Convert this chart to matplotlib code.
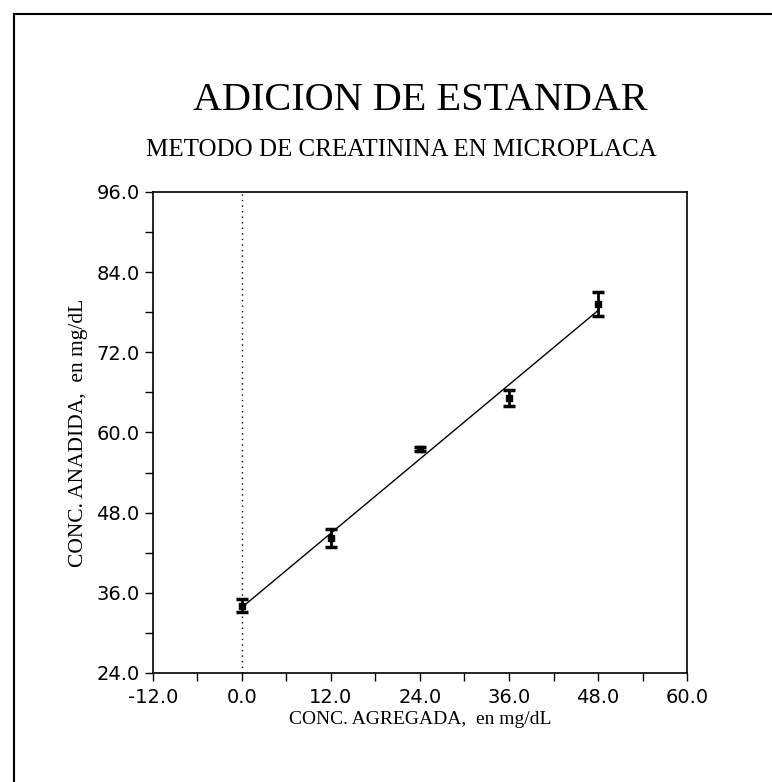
import numpy as np
import matplotlib.pyplot as plt
from matplotlib.lines import Line2D

# concentration added (mg/dL) and measured concentration with its spread
conc_agregada = [0.0, 12.0, 24.0, 36.0, 48.0]
conc_anadida = [34.1, 44.2, 57.6, 65.1, 79.2]
desviacion = [1.0, 1.3, 0.3, 1.2, 1.8]

x_ticks = [-12.0, 0.0, 12.0, 24.0, 36.0, 48.0, 60.0]
y_ticks = [24.0, 36.0, 48.0, 60.0, 72.0, 84.0, 96.0]

fig = plt.figure(figsize=(7.72, 7.82), dpi=100)
ax = fig.add_axes([0.198, 0.1394, 0.692, 0.6151])

# scan frame on the top and left edges
fig.add_artist(Line2D([0.018, 1.0], [0.982, 0.982], color='black', lw=1.5))
fig.add_artist(Line2D([0.018, 0.018], [0.0, 0.982], color='black', lw=1.5))

ax.axvline(0.0, color='black', lw=1, ls=(0, (1, 3)))

pendiente, intercepto = np.polyfit(conc_agregada, conc_anadida, 1)
xs = np.array([conc_agregada[0], conc_agregada[-1]])
ax.plot(xs, intercepto + pendiente * xs, color='black', lw=1)

ax.errorbar(conc_agregada, conc_anadida, yerr=desviacion, fmt='s', color='black',
            markersize=4, capsize=4, elinewidth=2, capthick=2.5)

ax.set_xlim(-12, 60)
ax.set_ylim(24, 96)
ax.set_xticks(x_ticks)
ax.set_yticks(y_ticks)
ax.set_xticks(np.arange(-6, 60, 12), minor=True)
ax.set_yticks(np.arange(30, 96, 12), minor=True)
ax.set_xticklabels(['%.1f' % v for v in x_ticks])
ax.set_yticklabels(['%.1f' % v for v in y_ticks])
ax.tick_params(which='both', direction='out', length=6, width=1, labelsize=14)
ax.tick_params(axis='x', pad=5)
for lab in ax.get_xticklabels() + ax.get_yticklabels():
    lab.set_family('DejaVu Sans')
for s in ax.spines.values():
    s.set_linewidth(1.2)

ax.set_xlabel('CONC. AGREGADA,  en mg/dL', family='Liberation Serif', fontsize=14, labelpad=3)
ax.set_ylabel('CONC. ANADIDA,  en mg/dL', family='Liberation Serif', fontsize=15.5, labelpad=6)

fig.text(0.545, 0.872, 'ADICION DE ESTANDAR', family='Liberation Serif',
         fontsize=29, ha='center', va='center')
fig.text(0.52, 0.808, 'METODO DE CREATININA EN MICROPLACA', family='Liberation Serif',
         fontsize=18, ha='center', va='center')

fig.savefig('out.png', dpi=100)
